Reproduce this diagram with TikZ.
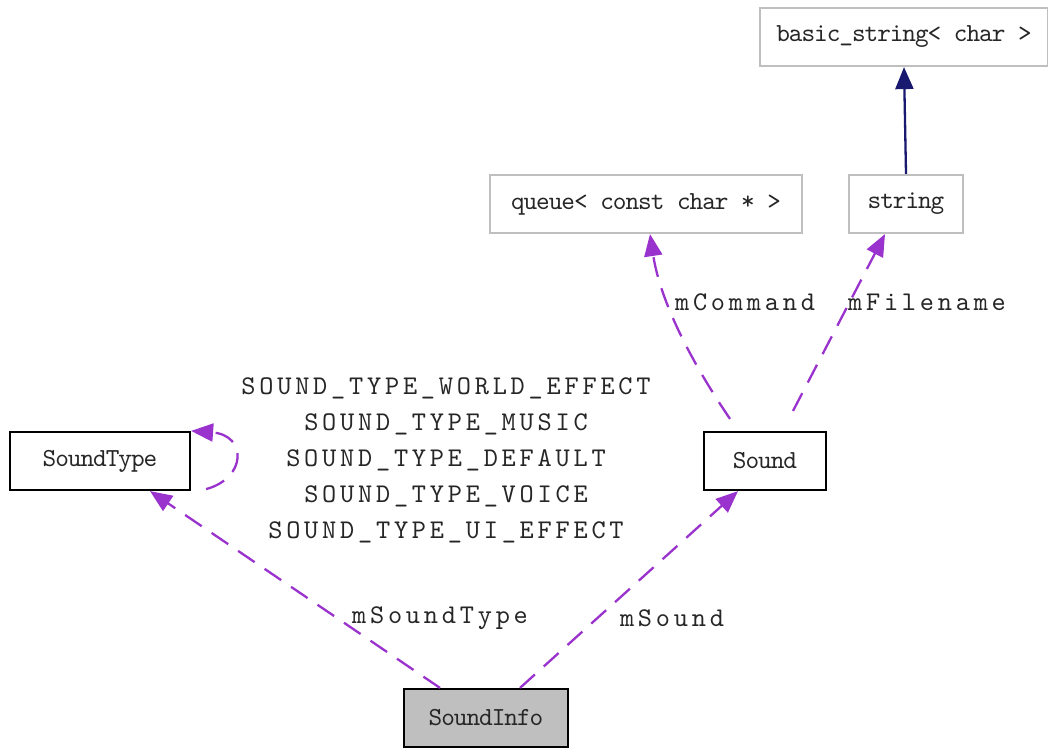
\documentclass[tikz,border=0pt]{standalone}
\usepackage{fontspec}
\newfontfamily\lblfont[Extension=.otf,LetterSpace=14]{lmmono10-regular}
\newfontfamily\boxfont[Extension=.otf,LetterSpace=-4]{lmmono10-regular}
\usetikzlibrary{arrows.meta}
\definecolor{edgepurple}{HTML}{9A32CD}
\definecolor{navyblue}{HTML}{191970}
\definecolor{boxgray}{HTML}{BFBFBF}
\begin{document}
\begin{tikzpicture}[x=1pt,y=-1pt,
  cls/.style={draw=black,line width=2.2pt,minimum height=58pt,inner sep=0pt,font=\boxfont\fontsize{26}{30}\selectfont,text=black!85},
  ext/.style={cls,draw=boxgray},
  dep/.style={draw=edgepurple,line width=2.3pt,dash pattern=on 20pt off 12pt,-{Triangle[length=22pt,width=18pt,fill=edgepurple]}},
  inh/.style={draw=navyblue,line width=2.3pt,-{Triangle[length=22pt,width=18pt,fill=navyblue]}},
  lbl/.style={font=\lblfont\fontsize{27}{36}\selectfont,align=center,text=black!85}]
\useasboundingbox (0,0) rectangle (1048,747);
\node[ext,minimum width=288pt] (bs) at (904,37) {basic\_string< char >};
\node[ext,minimum width=114pt] (str) at (906,204) {string};
\node[ext,minimum width=312pt] (q) at (646,204) {queue< const char * >};
\node[cls,minimum width=122pt] (snd) at (765,461) {Sound};
\node[cls,minimum width=180pt] (stype) at (100,461) {SoundType};
\node[cls,fill=boxgray,minimum width=164pt] (si) at (486,718) {SoundInfo};
\draw[inh] (str.north) -- (bs.south);
\draw[dep] ([xshift=-35pt,yshift=12pt]snd.north) .. controls (690,360) and (660,300) .. ([xshift=4pt]q.south);
\draw[dep] ([xshift=28pt,yshift=20pt]snd.north) -- ([xshift=-21pt]str.south);
\draw[dep] ([xshift=34pt]si.north) -- ([xshift=-27pt]snd.south);
\draw[dep] ([xshift=-46pt]si.north) -- ([xshift=50pt]stype.south);
\draw[dep] ([xshift=15pt,yshift=2pt]stype.south east) .. controls (247,478) and (247,435) .. (stype.north east);
\node[lbl] (l1) at (745,302) {mCommand};
\node[lbl] (l2) at (927,302) {mFilename};
\node[lbl] (l3) at (672,618) {mSound};
\node[lbl] (l4) at (440,618) {mSoundType};
\node[lbl] (l5) at (446,460) {SOUND\_TYPE\_WORLD\_EFFECT\\SOUND\_TYPE\_MUSIC\\SOUND\_TYPE\_DEFAULT\\SOUND\_TYPE\_VOICE\\SOUND\_TYPE\_UI\_EFFECT};
\end{tikzpicture}
\end{document}
